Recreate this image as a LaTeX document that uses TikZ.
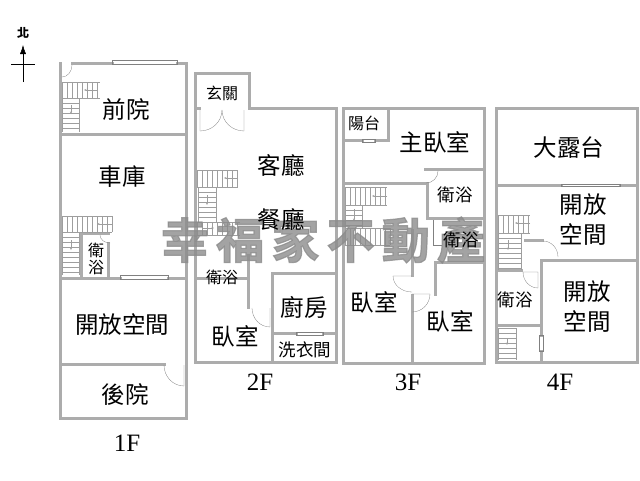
\documentclass[tikz,border=0pt]{standalone}
\usepackage{fontspec}
\setmainfont{Noto Sans CJK TC}
\newfontfamily\latinfont{Liberation Serif}
\newfontfamily\markfont[LetterSpace=15,FakeBold=2.5]{Noto Sans CJK TC Bold}
\usetikzlibrary{arrows.meta}
\definecolor{wallgray}{RGB}{172,172,172}
\definecolor{markgray}{RGB}{140,140,140}
\tikzset{
	wall/.style={draw=wallgray, line width=3pt, line cap=rect},
	thinwall/.style={draw=black!50, line width=0.3pt},
	tread/.style={draw=black!38, line width=0.3pt},
	treadarrow/.style={tread, -{Stealth[length=2.5pt,width=2pt]}},
	room/.style={inner sep=0pt, font=\fontsize{23.5}{24}\selectfont},
	smallroom/.style={inner sep=0pt, font=\fontsize{16}{16}\selectfont},
	midroom/.style={inner sep=0pt, font=\fontsize{17.5}{18}\selectfont},
	floorname/.style={inner sep=0pt, font=\latinfont\fontsize{25}{25}\selectfont},
}
% stair flights: x1,x2,y1,y2 and the second tread
\newcommand{\flighth}[5]{
	\draw[tread] (#1,#3) -- (#2,#3) (#1,#4) -- (#2,#4);
	\foreach \tx in {#1,#5,...,#2} \draw[tread] (\tx,#3) -- (\tx,#4);
}
\newcommand{\flightv}[5]{
	\draw[tread] (#1,#3) -- (#1,#4) (#2,#3) -- (#2,#4);
	\foreach \ty in {#3,#5,...,#4} \draw[tread] (#1,\ty) -- (#2,\ty);
}

\begin{document}
\begin{tikzpicture}[x=1pt, y=-1pt]
	\useasboundingbox (0,0) rectangle (640,480);

	% north mark
	\node[inner sep=0pt, font=\bfseries\fontsize{12}{12}\selectfont] (north) at (23,33) {北};
	\coordinate (ntop) at (23,45);
	\coordinate (nbot) at (23,82);
	\coordinate (wleft) at (11,64);
	\coordinate (wright) at (35,64);
	\draw[-{Latex[length=9pt,width=6pt]}, line width=0.5pt] (nbot) -- (ntop);
	\draw[line width=0.5pt] (wleft) -- (wright);

	% 1F
	\draw[wall] (72,63) -- (112,63) (177,63) -- (186,63) -- (186,418) -- (60,418) -- (60,63);
	\draw[wall] (60,134) -- (186,134);
	\draw[wall] (81,233) -- (108,233);
	\draw[wall] (81,233) -- (81,278);
	\draw[wall] (108,243) -- (108,278);
	\draw[wall] (60,278) -- (120,278) (168,278) -- (186,278);
	\draw[wall] (60,364) -- (164,364);
	\draw[thinwall] (112,60) rectangle (177,64);
	\draw[thinwall] (120,275) rectangle (168,279);
	\draw[thinwall] (72,65) arc (0:90:10 and 12);
	\draw[thinwall] (164,365) arc (180:90:20 and 21) -- (184,365);
	\draw[thinwall] (100,235) arc (180:90:10 and 8);
	\flighth{62}{100}{82}{98}{67}
	\flightv{62}{79}{98}{132}{103}
	\flighth{62}{112}{216}{232}{67}
	\flightv{62}{79}{232}{275}{237}
	\draw[treadarrow] (98,90) -- (84,90);
	\draw[treadarrow] (71,105) -- (71,114);
	\draw[treadarrow] (112,224) -- (97,224);
	\draw[treadarrow] (71,240) -- (71,250);

	% 2F
	\draw[wall] (195,362) -- (195,73) -- (249,73) -- (249,108) -- (336,108) -- (336,362) -- cycle;
	\draw[wall] (195,108) -- (199,108);
	\draw[wall] (195,278) -- (246,278);
	\draw[wall] (248,255) -- (248,307);
	\draw[wall] (272,273) -- (336,273);
	\draw[wall] (272,273) -- (272,362);
	\draw[wall] (272,333) -- (296,333) (323,333) -- (336,333);
	\draw[thinwall] (200,110) -- (200,131) arc (90:0:22 and 21);
	\draw[thinwall] (244,110) -- (244,131) arc (90:180:22 and 21);
	\draw[thinwall] (252,308) arc (180:90:18 and 19) -- (270,308);
	\draw[thinwall] (296,332) rectangle (323,335);
	\flighth{197}{238}{170}{187}{202}
	\flightv{198}{216}{187}{222}{192}
	\flighth{197}{240}{222}{235}{202}
	\draw[treadarrow] (238,178) -- (224,178);
	\draw[treadarrow] (207,195) -- (207,205);
	\draw[treadarrow] (203,228) -- (214,228);

	% 3F
	\draw[wall] (343,108) rectangle (484,363);
	\draw[wall] (388,108) -- (388,140) -- (375,140) (362,140) -- (343,140);
	\draw[wall] (425,169) -- (484,169);
	\draw[wall] (343,183) -- (427,183) -- (427,218) -- (484,218);
	\draw[wall] (435,262) -- (484,262);
	\draw[wall] (435,262) -- (435,294);
	\draw[wall] (412,230) -- (412,275);
	\draw[wall] (412,295) -- (412,363);
	\draw[thinwall] (362,139) rectangle (375,142);
	\draw[thinwall] (438,171) arc (0:90:12);
	\draw[thinwall] (433,220) -- (433,245) -- (442,245);
	\draw[thinwall] (412,276) -- (393,276) arc (180:90:19 and 16);
	\draw[thinwall] (412,294) -- (430,294) arc (0:90:18);
	\flighth{345}{387}{187}{205}{350}
	\flightv{345}{362}{205}{228}{210}
	\flighth{345}{390}{228}{245}{350}
	\draw[treadarrow] (387,196) -- (372,196);
	\draw[treadarrow] (354,209) -- (354,221);

	% 4F
	\draw[wall] (496,108) rectangle (637,362);
	\draw[wall] (496,185) -- (561,185) (620,185) -- (637,185);
	\draw[wall] (525,240) -- (542,240);
	\draw[wall] (541,260) -- (637,260);
	\draw[wall] (541,260) -- (541,335) (541,351) -- (541,362);
	\draw[wall] (496,270) -- (521,270);
	\draw[wall] (496,325) -- (541,325);
	\draw[thinwall] (561,184) rectangle (620,186);
	\draw[thinwall] (543,241) arc (270:360:15 and 16);
	\draw[thinwall] (523,272) -- (538,272) -- (538,288) arc (90:180:15 and 16);
	\draw[thinwall] (539,335) rectangle (543,351);
	\flighth{498}{530}{215}{233}{503}
	\flightv{498}{521}{233}{270}{238}
	\flightv{498}{516}{328}{360}{333}
	\draw[treadarrow] (530,223) -- (515,223);
	\draw[treadarrow] (508,240) -- (508,250);
	\draw[treadarrow] (507,338) -- (507,345);

	% watermark
	\node[inner sep=0pt, text=markgray, opacity=0.8, font=\markfont\fontsize{48}{48}\selectfont] (mark) at (323,240) {幸福家不動產};

	% room names
	\node[room] (front) at (126,109) {前院};
	\node[room] (garage) at (122,177) {車庫};
	\node[smallroom] (bath1a) at (96,250) {衛};
	\node[smallroom] (bath1b) at (96,268) {浴};
	\node[room] (open1) at (122,325) {開放空間};
	\node[room] (back) at (125,395) {後院};
	\node[floorname] (f1) at (127,443) {1F};

	\node[smallroom] (entry) at (222,93) {玄關};
	\node[room] (living) at (281,165) {客廳};
	\node[room] (dining) at (281,219) {餐廳};
	\node[smallroom] (bath2) at (222,277) {衛浴};
	\node[room] (bed2) at (235,336) {臥室};
	\node[room] (kitchen) at (304,307) {廚房};
	\node[midroom] (laundry) at (305,350) {洗衣間};
	\node[floorname] (f2) at (260,382) {2F};

	\node[smallroom] (balcony) at (364,123) {陽台};
	\node[room] (master) at (435,142) {主臥室};
	\node[midroom] (bath3a) at (455,195) {衛浴};
	\node[midroom] (bath3b) at (461,240) {衛浴};
	\node[room] (bed3a) at (374,302) {臥室};
	\node[room] (bed3b) at (450,321) {臥室};
	\node[floorname] (f3) at (408,382) {3F};

	\node[room] (terrace) at (569,148) {大露台};
	\node[room] (open4a) at (583,205) {開放};
	\node[room] (open4b) at (583,235) {空間};
	\node[midroom] (bath4) at (515,300) {衛浴};
	\node[room] (open4c) at (587,292) {開放};
	\node[room] (open4d) at (587,322) {空間};
	\node[floorname] (f4) at (560,382) {4F};
\end{tikzpicture}
\end{document}
